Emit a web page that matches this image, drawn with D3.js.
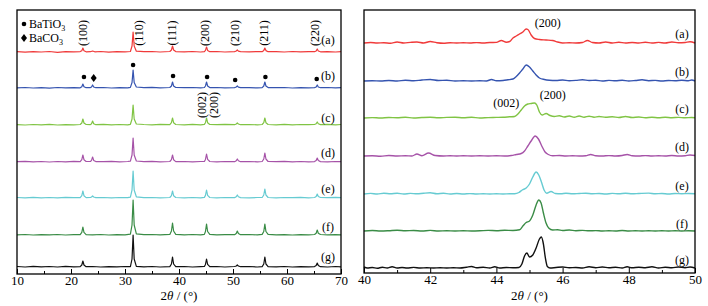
<!DOCTYPE html>
<html lang="en">
<head>
  <meta charset="UTF-8">
  <script type="text/javascript" src="https://cdn.jsdelivr.net/npm/d3@7"></script>
  <title>XRD</title>
  <style type="text/css">
    * { margin: 0; padding: 0; }
    html, body { width: 100%; height: 100%; background-color: #fff; }
    text { font-family: "Liberation Serif", "Times New Roman", serif; fill: #000; }
  </style>
</head>
<body>
<div id="box"></div>
</body>
<script type="text/javascript">
  // sample names, colours
  var names = ['(a)', '(b)', '(c)', '(d)', '(e)', '(f)', '(g)']
  var colors = ['#f03a3a', '#3554b0', '#80c444', '#a653a8', '#66cbd2', '#3a8c46', '#111111']

  // 2theta 10-70, intensity (arb.)
  var fullA = [[10,0.3],[11.5,-0.2],[13,0.4],[14.5,0],[16,0.5],[17.5,-0.3],[19,0.3],[20.5,0.1],[21.7,0.4],[22.0,1.3],[22.2,4],[22.4,1.3],[22.8,0.2],[23.6,0.3],[24.0,1],[24.4,0.2],[25.5,0.5],[27,-0.2],[28.5,0.4],[30,0.2],[31.0,0.5],[31.3,6],[31.5,20],[31.7,6],[32.1,0.8],[33.5,0.3],[35,0.5],[36.5,0],[38.3,0.5],[38.6,2],[38.8,6],[39.0,2],[39.4,0.4],[41,0.2],[42.5,0.5],[44,0],[44.7,0.4],[44.9,1.6],[45.1,5],[45.3,1.6],[45.7,0.3],[47,0.5],[48.5,0],[50.3,0.4],[50.6,1],[50.8,2],[51.0,0.8],[51.4,0.3],[53,0.2],[54.5,0.5],[55.4,0.3],[55.7,1.4],[55.9,4],[56.1,1.4],[56.5,0.3],[58,0.4],[59.5,0],[61,0.5],[62.5,0.2],[64,0.4],[65.1,0.3],[65.4,1],[65.6,3],[65.8,1],[66.2,0.2],[67.5,0.4],[69,0],[70,0.3]]
  var fullB = [[10,0.2],[11.5,0.5],[13,0],[14.5,0.4],[16,-0.2],[17.5,0.5],[19,0.1],[20.5,0.4],[21.7,0.2],[22.0,1.3],[22.2,4],[22.4,1.3],[22.8,0.3],[23.6,0.4],[23.8,1],[24.0,3],[24.2,1],[24.6,0.3],[26,0.5],[27.5,0],[29,0.4],[30.5,0.2],[31.0,0.6],[31.3,5.5],[31.5,18],[31.7,5.5],[32.1,1],[33.5,0.4],[35,0.6],[36.5,0.1],[38.3,0.5],[38.6,2],[38.8,6],[39.0,2],[39.4,0.5],[41,0.3],[42.5,0.5],[44,0.1],[44.7,0.5],[44.9,2],[45.1,6],[45.3,2],[45.7,0.4],[47,0.5],[48.5,0.1],[50.3,0.4],[50.6,1],[50.8,2],[51.0,0.8],[51.4,0.3],[53,0.4],[54.5,0.1],[55.4,0.4],[55.7,2],[55.9,6],[56.1,2],[56.5,0.4],[58,0.3],[59.5,0.5],[61,0],[62.5,0.4],[64,0.2],[65.1,0.4],[65.4,1],[65.6,3],[65.8,1],[66.2,0.3],[67.5,0.5],[69,0.1],[70,0.4]]
  var fullC = [[10,0.4],[11.5,0],[13,0.5],[14.5,0.2],[16,0.6],[17.5,0],[19,0.4],[20.5,0.2],[21.7,0.5],[22.0,2],[22.2,6],[22.4,2],[22.8,0.5],[23.6,0.4],[23.8,1.3],[24.0,4],[24.2,1.3],[24.6,0.3],[26,0.6],[27.5,0.1],[29,0.5],[30.5,0.2],[31.0,0.7],[31.3,6],[31.5,20],[31.7,6],[32.1,1],[33.5,0.5],[35,0.2],[36.5,0.6],[38.3,0.4],[38.6,2.3],[38.8,7],[39.0,2.3],[39.4,0.5],[41,0.2],[42.5,0.6],[44,0.2],[44.7,0.6],[44.9,2.3],[45.1,7],[45.3,2.3],[45.7,0.5],[47,0.3],[48.5,0.6],[50.3,0.3],[50.6,1],[50.8,2],[51.0,1],[51.4,0.3],[53,0.5],[54.5,0.2],[55.4,0.5],[55.7,2.3],[55.9,7],[56.1,2.3],[56.5,0.5],[58,0.2],[59.5,0.6],[61,0.2],[62.5,0.5],[64,0.3],[65.1,0.5],[65.4,1.2],[65.6,3],[65.8,1.2],[66.2,0.4],[67.5,0.6],[69,0.2],[70,0.5]]
  var fullD = [[10,0.3],[11.5,0.6],[13,0.1],[14.5,0.5],[16,0],[17.5,0.5],[19,0.2],[20.5,0.6],[21.7,0.3],[22.0,2.3],[22.2,7],[22.4,2.3],[22.8,0.5],[23.6,0.5],[23.8,1.6],[24.0,5],[24.2,1.6],[24.6,0.4],[26,0.3],[27.5,0.6],[29,0.2],[30.5,0.5],[31.0,0.8],[31.3,7],[31.5,24],[31.7,7],[32.1,1],[33.5,0.3],[35,0.6],[36.5,0.2],[38.3,0.5],[38.6,2.3],[38.8,7],[39.0,2.3],[39.4,0.4],[41,0.5],[42.5,0.1],[44,0.5],[44.7,0.5],[44.9,2.6],[45.1,8],[45.3,2.6],[45.7,0.5],[47,0.2],[48.5,0.5],[50.3,0.3],[50.6,1.2],[50.8,3],[51.0,1.2],[51.4,0.3],[53,0.5],[54.5,0.2],[55.4,0.5],[55.7,3],[55.9,9],[56.1,3],[56.5,0.5],[58,0.3],[59.5,0.6],[61,0.1],[62.5,0.5],[64,0.2],[65.1,0.4],[65.4,1.5],[65.6,4],[65.8,1.5],[66.2,0.4],[67.5,0.2],[69,0.5],[70,0.3]]
  var fullE = [[10,0.5],[11.5,0.1],[13,0.6],[14.5,0.2],[16,0.5],[17.5,0.1],[19,0.6],[20.5,0.3],[21.7,0.4],[22.0,2.3],[22.2,7],[22.4,2.3],[22.8,0.4],[23.6,0.5],[23.8,1],[24.0,2],[24.2,1],[24.6,0.4],[26,0.5],[27.5,0.1],[29,0.5],[30.5,0.3],[31.0,0.8],[31.3,8],[31.5,27],[31.7,8],[32.1,1.2],[33.5,0.4],[35,0.5],[36.5,0.2],[38.3,0.5],[38.6,2.3],[38.8,7],[39.0,2.3],[39.4,0.5],[41,0.2],[42.5,0.5],[44,0.2],[44.7,0.6],[44.9,2.6],[45.1,8],[45.3,2.6],[45.7,0.5],[47,0.2],[48.5,0.5],[50.3,0.4],[50.6,1.2],[50.8,3],[51.0,1.2],[51.4,0.4],[53,0.2],[54.5,0.5],[55.4,0.5],[55.7,3],[55.9,9],[56.1,3],[56.5,0.5],[58,0.2],[59.5,0.5],[61,0.3],[62.5,0.6],[64,0.2],[65.1,0.5],[65.4,1.5],[65.6,4],[65.8,1.5],[66.2,0.5],[67.5,0.3],[69,0.6],[70,0.3]]
  var fullF = [[10,0.2],[11.5,0.5],[13,0],[14.5,0.4],[16,0.1],[17.5,0.5],[19,0],[20.5,0.4],[21.7,0.3],[22.0,2.6],[22.2,8],[22.4,2.6],[22.8,0.4],[24,0.2],[25.5,0.5],[27,0],[28.5,0.4],[30,0.1],[31.0,0.8],[31.3,10],[31.5,35],[31.7,10],[32.1,1.2],[33.5,0.3],[35,0.5],[36.5,0.1],[38.3,0.6],[38.6,4],[38.8,12],[39.0,4],[39.4,0.6],[41,0.2],[42.5,0.5],[44,0.1],[44.7,0.6],[44.9,3.5],[45.1,11],[45.3,3.5],[45.7,0.6],[47,0.2],[48.5,0.4],[50.3,0.3],[50.6,1.5],[50.8,4],[51.0,1.5],[51.4,0.3],[53,0.5],[54.5,0.1],[55.4,0.6],[55.7,3.5],[55.9,11],[56.1,3.5],[56.5,0.6],[58,0.2],[59.5,0.4],[61,0],[62.5,0.4],[64,0.2],[65.1,0.5],[65.4,1.8],[65.6,5],[65.8,1.8],[66.2,0.5],[67.5,0.2],[69,0.4],[70,0.1]]
  var fullG = [[10,0.5],[11.5,0],[13,0.6],[14.5,0.1],[16,0.5],[17.5,0],[19,0.6],[20.5,0.2],[21.7,0.4],[22.0,2],[22.2,6],[22.4,2],[22.8,0.3],[24,0.5],[25.5,0],[27,0.4],[28.5,0.1],[30,0.5],[31.0,0.3],[31.3,8],[31.5,32],[31.7,8],[32.1,0.6],[33.5,0.2],[35,0.5],[36.5,0],[38.3,0.4],[38.6,3],[38.8,10],[39.0,3],[39.4,0.3],[41,0.5],[42.5,0],[44,0.4],[44.7,0.5],[44.9,2.6],[45.1,8],[45.3,2.6],[45.7,0.3],[47,0.5],[48.5,0],[50.3,0.5],[50.6,1],[50.8,2],[51.0,1],[51.4,0.3],[53,0.5],[54.5,0],[55.4,0.4],[55.7,3],[55.9,10],[56.1,3],[56.5,0.4],[58,0.1],[59.5,0.5],[61,0],[62.5,0.4],[64,0.1],[65.1,0.4],[65.4,1.5],[65.6,4],[65.8,1.5],[66.2,0.3],[67.5,0],[69,0.5],[70,0.2]]

  // 2theta 40-50 detail
  var zoomA = [[40,0],[40.2,0.5],[40.4,0],[40.6,0.3],[40.8,-0.2],[41.0,1],[41.2,0],[41.4,0.6],[41.6,1],[41.8,0],[42.0,1.5],[42.2,0.3],[42.4,-0.2],[42.6,0.2],[42.8,0],[43.0,0.3],[43.2,0],[43.4,0.4],[43.6,0],[43.8,0.5],[44.0,0.6],[44.15,2.5],[44.3,0.8],[44.4,1.5],[44.5,5],[44.6,7],[44.7,9],[44.8,11],[44.9,14],[44.95,13.5],[45.05,8],[45.15,4.5],[45.3,3.5],[45.5,3],[45.7,2.5],[45.85,1],[46.0,0],[46.2,0.2],[46.4,0],[46.6,0.5],[46.75,2.5],[46.9,0.5],[47.1,0],[47.3,1],[47.5,0],[47.7,0.8],[47.9,0],[48.1,0.5],[48.3,0],[48.5,0.8],[48.7,0],[48.9,0.6],[49.1,0],[49.3,1],[49.5,0.2],[49.7,0.5],[49.85,1.2],[50,0]]
  var zoomB = [[40,0],[40.25,0.3],[40.5,0],[40.75,0.5],[41,0],[41.25,0.8],[41.5,0.2],[41.75,1],[42,1.5],[42.25,0.5],[42.5,0.8],[42.75,0],[43,0.3],[43.25,0],[43.5,0.2],[43.7,0],[43.85,1.5],[44.0,0.3],[44.2,0.5],[44.35,1.2],[44.5,2],[44.6,4.5],[44.7,8],[44.8,12],[44.9,16],[45.0,14],[45.1,10],[45.2,6],[45.3,3],[45.45,1.5],[45.6,0.8],[45.8,0.5],[46,1],[46.2,0.3],[46.4,0.6],[46.6,1.2],[46.8,0.5],[47,0.8],[47.2,0],[47.4,0.6],[47.6,0.2],[47.8,0.8],[48,0],[48.2,0.5],[48.4,1.2],[48.6,0.3],[48.8,0.6],[49,0],[49.2,0.5],[49.4,0.2],[49.6,0.8],[49.8,0.2],[49.9,1],[50,0]]
  var zoomC = [[40,0],[40.25,0.4],[40.5,0],[40.75,0.5],[41,0.2],[41.25,0.8],[41.5,0],[41.75,0.5],[42,0.8],[42.25,0.2],[42.5,0.6],[42.75,0.8],[43,0.2],[43.25,0.8],[43.5,0],[43.75,0.4],[44,0.6],[44.2,0.8],[44.4,1.2],[44.55,1.5],[44.65,4],[44.75,8],[44.85,12],[44.95,14],[45.05,14.5],[45.15,15],[45.22,13],[45.3,6],[45.38,3],[45.5,4.5],[45.62,2.5],[45.75,1.5],[45.9,2.3],[46.05,1],[46.2,2],[46.35,0.8],[46.5,2],[46.65,0.8],[46.8,1.8],[46.95,0.8],[47.1,1.5],[47.3,0.8],[47.5,1.2],[47.7,0.5],[47.9,1.5],[48.1,0.5],[48.3,1],[48.5,0.2],[48.7,0.8],[48.9,0.3],[49.1,0.8],[49.3,0.3],[49.5,0.6],[49.7,0.2],[49.9,0.5],[50,0.3]]
  var zoomD = [[40,0],[40.25,0.3],[40.5,-0.2],[40.75,0.5],[41,0],[41.25,0.3],[41.45,0],[41.6,2],[41.75,0.3],[41.95,3],[42.15,0.5],[42.4,0],[42.6,0.3],[42.8,0],[43,0.2],[43.25,0],[43.5,0.3],[43.75,0],[44,0.2],[44.25,0],[44.45,0.5],[44.6,1.5],[44.75,2.5],[44.85,5],[44.95,10],[45.05,15],[45.17,20],[45.27,17],[45.37,10],[45.47,4],[45.57,1.5],[45.7,0.2],[45.9,0.5],[46.1,0],[46.3,0.3],[46.5,0],[46.7,0.3],[46.85,1.5],[47,0.3],[47.2,0],[47.4,0.4],[47.6,0],[47.8,0.5],[47.95,1.5],[48.1,0.3],[48.3,0],[48.5,0.4],[48.7,0],[48.9,0.3],[49.1,0],[49.3,0.5],[49.5,0],[49.7,0.3],[49.85,1],[50,0.5]]
  var zoomE = [[40,0],[40.2,0.6],[40.4,0],[40.6,0.8],[40.8,0.2],[41,0.8],[41.2,0],[41.4,0.6],[41.6,0.2],[41.8,0.8],[42,1.2],[42.2,0.2],[42.4,0.8],[42.6,0],[42.8,0.5],[43,0],[43.2,0.4],[43.4,0],[43.6,0.3],[43.8,0],[44,0.3],[44.2,0],[44.4,0.3],[44.55,0.3],[44.68,1.5],[44.78,4],[44.9,6],[45.0,10],[45.1,17],[45.2,22],[45.28,19],[45.36,12],[45.44,4],[45.52,0.8],[45.65,2.5],[45.78,0.5],[45.95,0.3],[46.1,0.8],[46.3,0.2],[46.5,0.5],[46.7,0.8],[46.9,0.2],[47.1,0.5],[47.3,0],[47.5,0.6],[47.7,0.2],[47.9,0.8],[48.1,0.2],[48.3,0.5],[48.6,0.9],[48.8,0.2],[49,0.5],[49.2,0],[49.4,0.5],[49.6,0.2],[49.8,0.5],[50,0.2]]
  var zoomF = [[40,0],[40.25,0.5],[40.5,0],[40.75,0.3],[41,0.8],[41.25,0.2],[41.5,0.5],[41.75,0],[42,0.6],[42.25,0],[42.5,0.3],[42.75,0],[43,0.2],[43.25,0],[43.5,0.2],[43.75,0.6],[44,0.3],[44.25,0.8],[44.5,0.5],[44.7,1.2],[44.8,5],[44.9,8.5],[45.0,10],[45.1,16],[45.2,26],[45.28,31],[45.35,28],[45.42,18],[45.5,8],[45.58,3],[45.7,1],[45.85,1.2],[46,0.5],[46.2,1],[46.4,0.3],[46.6,0.6],[46.8,0.2],[47,0.4],[47.2,0],[47.4,0.3],[47.6,0],[47.8,0.5],[48,0],[48.2,0.2],[48.4,0],[48.6,0.3],[48.8,0],[49,0.2],[49.2,0],[49.4,0.3],[49.6,0],[49.8,0.3],[50,0]]
  var zoomG = [[40,1],[40.1,0],[40.25,0.5],[40.4,-0.3],[40.55,0.8],[40.7,0],[40.85,1.2],[41,0],[41.15,0.5],[41.3,0],[41.5,0.6],[41.7,0],[41.9,0.3],[42.1,0],[42.3,0.2],[42.5,0],[42.7,0.3],[42.9,0],[43.1,0.8],[43.25,1.5],[43.4,0.3],[43.6,0.8],[43.8,0],[43.95,1.2],[44.1,0],[44.3,0.5],[44.5,0.2],[44.68,0.5],[44.77,4],[44.85,12],[44.92,15],[45.0,11],[45.1,13],[45.2,20],[45.3,29],[45.36,31],[45.42,24],[45.48,10],[45.54,1.5],[45.62,0],[45.8,0.5],[46,1],[46.2,0.2],[46.4,0.5],[46.6,0],[46.8,1.2],[47,0.3],[47.2,1],[47.4,0.2],[47.6,0.8],[47.8,0],[47.95,1.2],[48.1,0.2],[48.3,0.8],[48.5,0.3],[48.7,1.2],[48.9,0],[49.1,0.8],[49.3,0.2],[49.5,1],[49.7,0.2],[49.85,1],[50,0]]

  var fullSeries = [fullA, fullB, fullC, fullD, fullE, fullF, fullG]
  var zoomSeries = [zoomA, zoomB, zoomC, zoomD, zoomE, zoomF, zoomG]
  // vertical offsets of the stacked patterns
  var fullOffset = [222, 186, 149, 112, 76, 39, 7]
  var zoomOffset = [230, 192, 155, 117, 79, 42, 5]

  // reflections marked on the left panel
  var hkl = ['(100)', '(110)', '(111)', '(200)', '(210)', '(211)', '(220)']
  var hklAt = [22.2, 32.6, 38.7, 44.8, 50.4, 55.7, 65.2]
  var dotAt = [[22.4, 11], [31.5, 23], [38.9, 12], [45.2, 11], [50.4, 8], [56.0, 11], [65.5, 9]]
  var diamondAt = [[24.2, 10]]

  var leftTicks = [10, 20, 30, 40, 50, 60, 70]
  var leftMinor = [15, 25, 35, 45, 55, 65]
  var rightTicks = [40, 42, 44, 46, 48, 50]
  var rightMinor = [41, 43, 45, 47, 49]

  var width = 708
  var height = 306
  var svg = d3.select('#box').append('svg')
    .attr('width', width).attr('height', height)

  var yL = d3.scaleLinear().domain([0, 264]).range([274, 10])
  var yR = d3.scaleLinear().domain([0, 263]).range([273, 10])
  var xL = d3.scaleLinear().domain([10, 70]).range([17, 341])
  var xR = d3.scaleLinear().domain([40, 50]).range([364, 695])

  function panel(x, y, series, offsets, ticks, minor, lw, curve, labelX, labelY) {
    var g = svg.append('g')
    var x0 = x.range()[0], x1 = x.range()[1]
    var y0 = y.range()[0], y1 = y.range()[1]

    series.forEach(function (s, i) {
      var line = d3.line()
        .x(function (d) { return x(d[0]) })
        .y(function (d) { return y(d[1] + offsets[i]) })
        .curve(curve)
      g.append('path').attr('d', line(s))
        .attr('fill', 'none').attr('stroke', colors[i])
        .attr('stroke-width', lw).attr('stroke-linejoin', 'round')
      g.append('text').attr('x', labelX).attr('y', labelY[i])
        .attr('text-anchor', 'middle').attr('dominant-baseline', 'central')
        .style('font-size', '12px').text(names[i])
    })

    // minor ticks
    g.append('g').attr('transform', 'translate(0,' + y0 + ')')
      .call(d3.axisBottom(x).tickValues(minor).tickSize(-3).tickFormat(''))
      .call(function (a) { a.select('.domain').remove() })
    // major ticks
    var ax = g.append('g').attr('transform', 'translate(0,' + y0 + ')')
      .call(d3.axisBottom(x).tickValues(ticks).tickSizeInner(-5).tickSizeOuter(0).tickPadding(2))
    ax.select('.domain').remove()
    ax.selectAll('text').style('font-size', '13px').attr('font-family', null)
    g.selectAll('.tick line').attr('stroke', '#000').attr('stroke-width', 1)

    g.append('rect').attr('x', x0).attr('y', y1)
      .attr('width', x1 - x0).attr('height', y0 - y1)
      .attr('fill', 'none').attr('stroke', '#000').attr('stroke-width', 1.3)

    var t = g.append('text').attr('x', (x0 + x1) / 2).attr('y', 300)
      .attr('text-anchor', 'middle').style('font-size', '13px')
    t.append('tspan').text('2')
    t.append('tspan').style('font-style', 'italic').text('θ')
    t.append('tspan').text(' / (°)')
    return g
  }

  var gl = panel(xL, yL, fullSeries, fullOffset, leftTicks, leftMinor, 1.2, d3.curveLinear,
    328, [40, 76, 118, 153, 189, 227, 257])
  var gr = panel(xR, yR, zoomSeries, zoomOffset, rightTicks, rightMinor, 1.4, d3.curveMonotoneX,
    682, [34, 72, 109, 147, 186, 224, 260])

  // hkl labels, rotated
  hkl.forEach(function (h, i) {
    gl.append('text')
      .attr('transform', 'translate(' + xL(hklAt[i]) + ',33) rotate(-90)')
      .attr('text-anchor', 'middle').attr('dominant-baseline', 'central')
      .style('font-size', '12px').text(h)
  })
  ;[['(002)', 44.3], ['(200)', 46.5]].forEach(function (d) {
    gl.append('text')
      .attr('transform', 'translate(' + xL(d[1]) + ',105) rotate(-90)')
      .attr('text-anchor', 'middle').attr('dominant-baseline', 'central')
      .style('font-size', '12px').text(d[0])
  })

  // phase markers on pattern (b)
  gl.selectAll('circle.m').data(dotAt).enter().append('circle')
    .attr('cx', function (d) { return xL(d[0]) })
    .attr('cy', function (d) { return yL(d[1] + fullOffset[1]) })
    .attr('r', 2.3).attr('fill', '#000')
  gl.selectAll('path.m').data(diamondAt).enter().append('path')
    .attr('transform', function (d) { return 'translate(' + xL(d[0]) + ',' + yL(d[1] + fullOffset[1]) + ')' })
    .attr('d', 'M0,-4L3,0L0,4L-3,0Z').attr('fill', '#000')

  // legend
  gl.append('circle').attr('cx', 24).attr('cy', 24).attr('r', 2.3).attr('fill', '#000')
  gl.append('path').attr('transform', 'translate(24,38)').attr('d', 'M0,-4L3,0L0,4L-3,0Z').attr('fill', '#000')
  var l1 = gl.append('text').attr('x', 29).attr('y', 28).style('font-size', '12px')
  l1.append('tspan').text('BaTiO')
  l1.append('tspan').attr('dy', 2.5).style('font-size', '8px').text('3')
  var l2 = gl.append('text').attr('x', 29).attr('y', 42).style('font-size', '12px')
  l2.append('tspan').text('BaCO')
  l2.append('tspan').attr('dy', 2.5).style('font-size', '8px').text('3')

  // right panel peak labels
  ;[['(200)', 45.55, 27], ['(002)', 44.3, 107], ['(200)', 45.7, 99]].forEach(function (d) {
    gr.append('text').attr('x', xR(d[1])).attr('y', d[2])
      .attr('text-anchor', 'middle').style('font-size', '12px').text(d[0])
  })
</script>
</html>
